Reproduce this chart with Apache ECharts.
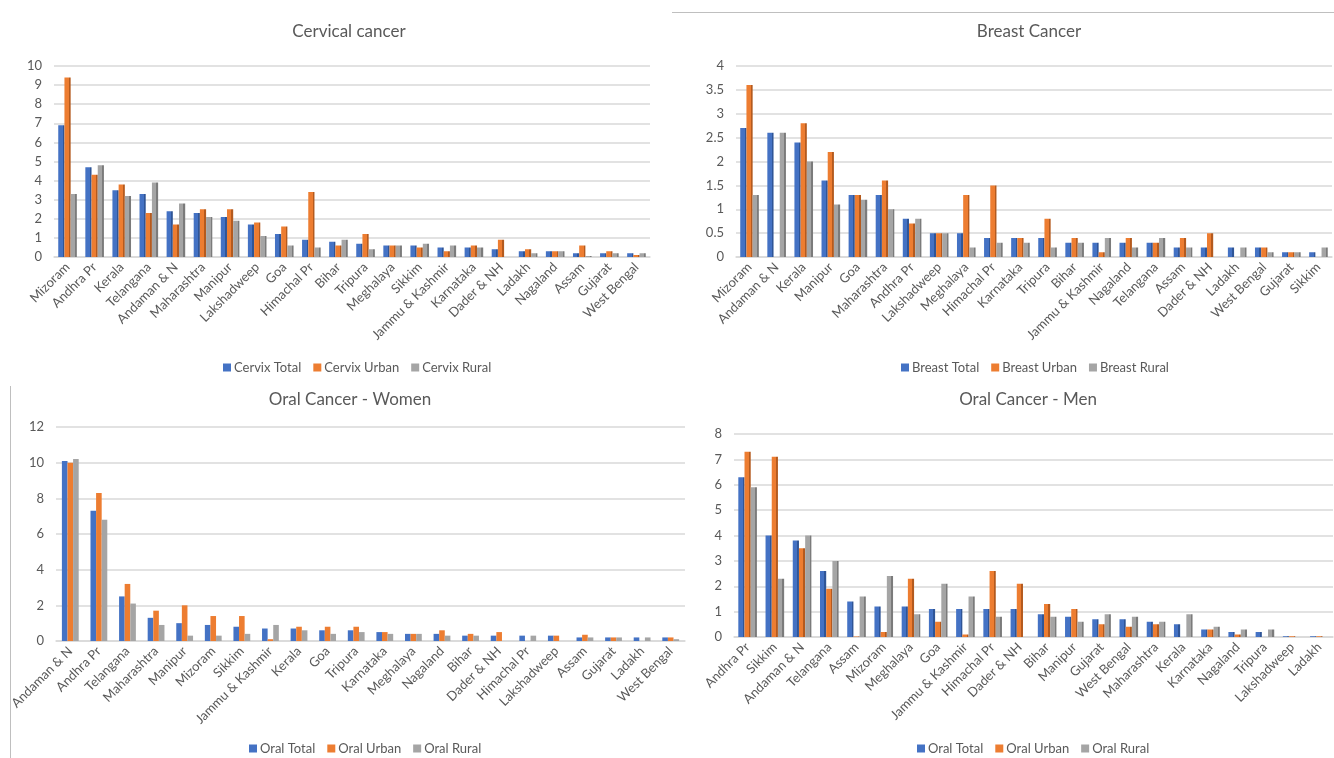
<!DOCTYPE html>
<html>
<head>
<meta charset="utf-8">
<title>Cancer screening by state</title>
<script src="https://cdn.jsdelivr.net/npm/echarts@6/dist/echarts.min.js"></script>
<style>
  html, body { margin: 0; padding: 0; background: #ffffff; }
  #chart { width: 1334px; height: 758px; }
</style>
</head>
<body>
<div id="chart"></div>
<script>
// ---- Cervical cancer ----
const cervixStates = ['Mizoram', 'Andhra Pr', 'Kerala', 'Telangana', 'Andaman & N', 'Maharashtra', 'Manipur', 'Lakshadweep', 'Goa', 'Himachal Pr', 'Bihar', 'Tripura', 'Meghalaya', 'Sikkim', 'Jammu & Kashmir', 'Karnataka', 'Dader & NH', 'Ladakh', 'Nagaland', 'Assam', 'Gujarat', 'West Bengal'];
const cervixTotal = [6.9, 4.7, 3.5, 3.3, 2.4, 2.3, 2.1, 1.7, 1.2, 0.9, 0.8, 0.7, 0.6, 0.6, 0.5, 0.5, 0.4, 0.3, 0.3, 0.2, 0.2, 0.2];
const cervixUrban = [9.4, 4.3, 3.8, 2.3, 1.7, 2.5, 2.5, 1.8, 1.6, 3.4, 0.6, 1.2, 0.6, 0.5, 0.3, 0.6, 0.9, 0.4, 0.3, 0.6, 0.3, 0.1];
const cervixRural = [3.3, 4.8, 3.2, 3.9, 2.8, 2.1, 1.9, 1.1, 0.6, 0.5, 0.9, 0.4, 0.6, 0.7, 0.6, 0.5, 0.0, 0.2, 0.3, 0.05, 0.2, 0.2];

// ---- Breast cancer ----
const breastStates = ['Mizoram', 'Andaman & N', 'Kerala', 'Manipur', 'Goa', 'Maharashtra', 'Andhra Pr', 'Lakshadweep', 'Meghalaya', 'Himachal Pr', 'Karnataka', 'Tripura', 'Bihar', 'Jammu & Kashmir', 'Nagaland', 'Telangana', 'Assam', 'Dader & NH', 'Ladakh', 'West Bengal', 'Gujarat', 'Sikkim'];
const breastTotal = [2.7, 2.6, 2.4, 1.6, 1.3, 1.3, 0.8, 0.5, 0.5, 0.4, 0.4, 0.4, 0.3, 0.3, 0.3, 0.3, 0.2, 0.2, 0.2, 0.2, 0.1, 0.1];
const breastUrban = [3.6, 0.0, 2.8, 2.2, 1.3, 1.6, 0.7, 0.5, 1.3, 1.5, 0.4, 0.8, 0.4, 0.1, 0.4, 0.3, 0.4, 0.5, 0.0, 0.2, 0.1, 0.0];
const breastRural = [1.3, 2.6, 2.0, 1.1, 1.2, 1.0, 0.8, 0.5, 0.2, 0.3, 0.3, 0.2, 0.3, 0.4, 0.2, 0.4, 0.2, 0.0, 0.2, 0.1, 0.1, 0.2];

// ---- Oral cancer, women ----
const oralWomenStates = ['Andaman & N', 'Andhra Pr', 'Telangana', 'Maharashtra', 'Manipur', 'Mizoram', 'Sikkim', 'Jammu & Kashmir', 'Kerala', 'Goa', 'Tripura', 'Karnataka', 'Meghalaya', 'Nagaland', 'Bihar', 'Dader & NH', 'Himachal Pr', 'Lakshadweep', 'Assam', 'Gujarat', 'Ladakh', 'West Bengal'];
const oralWomenTotal = [10.1, 7.3, 2.5, 1.3, 1.0, 0.9, 0.8, 0.7, 0.7, 0.6, 0.6, 0.5, 0.4, 0.4, 0.3, 0.3, 0.3, 0.3, 0.2, 0.2, 0.2, 0.2];
const oralWomenUrban = [10.0, 8.3, 3.2, 1.7, 2.0, 1.4, 1.4, 0.1, 0.8, 0.8, 0.8, 0.5, 0.4, 0.6, 0.4, 0.5, 0.0, 0.3, 0.35, 0.2, 0.0, 0.2];
const oralWomenRural = [10.2, 6.8, 2.1, 0.9, 0.3, 0.3, 0.4, 0.9, 0.6, 0.4, 0.5, 0.4, 0.4, 0.3, 0.3, 0.0, 0.3, 0.0, 0.2, 0.2, 0.2, 0.1];

// ---- Oral cancer, men ----
const oralMenStates = ['Andhra Pr', 'Sikkim', 'Andaman & N', 'Telangana', 'Assam', 'Mizoram', 'Meghalaya', 'Goa', 'Jammu & Kashmir', 'Himachal Pr', 'Dader & NH', 'Bihar', 'Manipur', 'Gujarat', 'West Bengal', 'Maharashtra', 'Kerala', 'Karnataka', 'Nagaland', 'Tripura', 'Lakshadweep', 'Ladakh'];
const oralMenTotal = [6.3, 4.0, 3.8, 2.6, 1.4, 1.2, 1.2, 1.1, 1.1, 1.1, 1.1, 0.9, 0.8, 0.7, 0.7, 0.6, 0.5, 0.3, 0.2, 0.2, 0.03, 0.03];
const oralMenUrban = [7.3, 7.1, 3.5, 1.9, 0.02, 0.2, 2.3, 0.6, 0.1, 2.6, 2.1, 1.3, 1.1, 0.5, 0.4, 0.5, 0.0, 0.3, 0.1, 0.0, 0.03, 0.03];
const oralMenRural = [5.9, 2.3, 4.0, 3.0, 1.6, 2.4, 0.9, 2.1, 1.6, 0.8, 0.0, 0.8, 0.6, 0.9, 0.8, 0.6, 0.9, 0.4, 0.3, 0.3, 0.0, 0.0];

const BLUE = '#4472C4', ORANGE = '#ED7D31', GRAY = '#A5A5A5';
const SIDE = { [BLUE]: '#2F5597', [ORANGE]: '#B45A1E', [GRAY]: '#7B7B7B' };
const TEXT = '#595959';
const FONT = 'Lato, "Open Sans", sans-serif';

// front face plus a darker right-hand side face for the column look
function solid(color, shaded) {
  if (!shaded) return color;
  return new echarts.graphic.LinearGradient(0, 0, 1, 0, [
    { offset: 0, color: color },
    { offset: 0.72, color: color },
    { offset: 0.72, color: SIDE[color] },
    { offset: 1, color: SIDE[color] }
  ]);
}

const panels = [
  { title: 'Cervical cancer', cats: cervixStates, names: ['Cervix Total', 'Cervix Urban', 'Cervix Rural'],
    data: [cervixTotal, cervixUrban, cervixRural], max: 10, interval: 1, shaded: true,
    grid: { left: 54, top: 66, width: 596, height: 191 }, titleX: 344, titleY: 18, legendX: 218, legendY: 356 },
  { title: 'Breast Cancer', cats: breastStates, names: ['Breast Total', 'Breast Urban', 'Breast Rural'],
    data: [breastTotal, breastUrban, breastRural], max: 4, interval: 0.5, shaded: true,
    grid: { left: 736, top: 66, width: 596, height: 191 }, titleX: 1024, titleY: 18, legendX: 896, legendY: 356 },
  { title: 'Oral Cancer - Women', cats: oralWomenStates, names: ['Oral Total', 'Oral Urban', 'Oral Rural'],
    data: [oralWomenTotal, oralWomenUrban, oralWomenRural], max: 12, interval: 2, shaded: false,
    grid: { left: 56, top: 427, width: 629, height: 214 }, titleX: 345, titleY: 386, legendX: 244, legendY: 737 },
  { title: 'Oral Cancer - Men', cats: oralMenStates, names: ['Oral Total', 'Oral Urban', 'Oral Rural'],
    data: [oralMenTotal, oralMenUrban, oralMenRural], max: 8, interval: 1, shaded: true,
    grid: { left: 734, top: 434, width: 599, height: 203 }, titleX: 1023, titleY: 386, legendX: 912, legendY: 737 }
];

const colors = [BLUE, ORANGE, GRAY];

const option = {
  animation: false,
  backgroundColor: '#ffffff',
  textStyle: { fontFamily: FONT },
  title: panels.map(p => ({
    text: p.title, left: p.titleX, top: p.titleY, textAlign: 'center',
    textStyle: { fontFamily: FONT, fontSize: 17, fontWeight: 'normal', color: TEXT }
  })),
  legend: panels.map(p => ({
    left: p.legendX, top: p.legendY, orient: 'horizontal',
    itemWidth: 8, itemHeight: 8, itemGap: 12, icon: 'rect',
    textStyle: { fontFamily: FONT, fontSize: 13, color: TEXT, padding: [0, 0, 0, -2] },
    selectedMode: false,
    data: p.names.map((n, i) => ({ name: n, itemStyle: { color: colors[i] } }))
  })),
  grid: panels.map(p => Object.assign({ containLabel: false }, p.grid)),
  xAxis: panels.map((p, i) => ({
    type: 'category', gridIndex: i, data: p.cats,
    axisLine: { show: true, lineStyle: { color: '#D9D9D9', width: 1.5 } },
    axisTick: { show: false },
    axisLabel: { interval: 0, rotate: 45, fontFamily: FONT, fontSize: 13, color: TEXT, margin: 8 }
  })),
  yAxis: panels.map((p, i) => ({
    type: 'value', gridIndex: i, min: 0, max: p.max, interval: p.interval,
    axisLine: { show: false }, axisTick: { show: false },
    splitLine: { lineStyle: { color: '#D9D9D9', width: 1.5 } },
    axisLabel: { fontFamily: FONT, fontSize: 13, color: TEXT, margin: 12 }
  })),
  series: []
};

panels.forEach((p, gi) => {
  p.names.forEach((name, si) => {
    option.series.push({
      type: 'bar', name: name, xAxisIndex: gi, yAxisIndex: gi,
      data: p.data[si],
      barWidth: p.shaded ? 6.2 : 5.6,
      barGap: '0%',
      itemStyle: { color: solid(colors[si], p.shaded) }
    });
  });
});

const chart = echarts.init(document.getElementById('chart'), null, { renderer: 'canvas' });
chart.setOption(option);
chart.setOption({
  graphic: [
    { type: 'line', shape: { x1: 672, y1: 12.5, x2: 1334, y2: 12.5 }, style: { stroke: '#BFBFBF', lineWidth: 1 } },
    { type: 'line', shape: { x1: 10.5, y1: 386, x2: 10.5, y2: 758 }, style: { stroke: '#BFBFBF', lineWidth: 1 } }
  ]
});
</script>
</body>
</html>
